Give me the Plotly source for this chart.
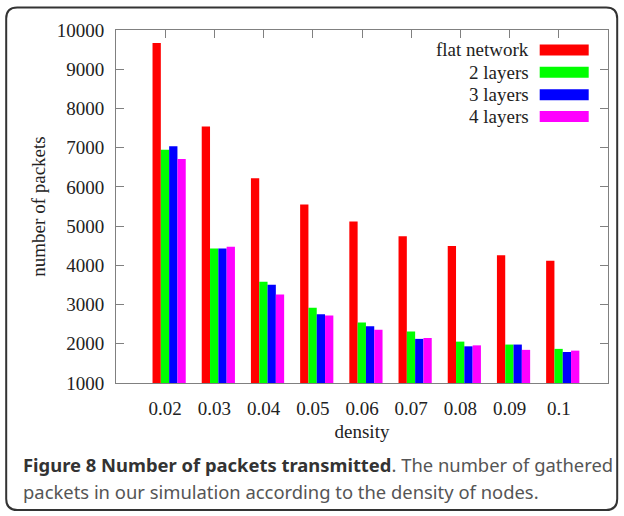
import numpy as np
import plotly.graph_objects as go

# Packets gathered per node density, for each network organisation
densities = ["0.02", "0.03", "0.04", "0.05", "0.06", "0.07", "0.08", "0.09", "0.1"]
series_names = ["flat network", "2 layers", "3 layers", "4 layers"]
series_colors = ["#ff0000", "#00ff00", "#0000ff", "#ff00ff"]

flat_network = [9670, 7540, 6220, 5550, 5120, 4740, 4490, 4260, 4115]
two_layers = [6950, 4430, 3580, 2920, 2540, 2310, 2055, 1980, 1870]
three_layers = [7035, 4430, 3505, 2755, 2445, 2125, 1935, 1980, 1790]
four_layers = [6710, 4475, 3255, 2720, 2360, 2150, 1960, 1845, 1825]
series_values = [flat_network, two_layers, three_layers, four_layers]

y_ticks = list(range(1000, 10001, 1000))
y_tick_text = [str(v) for v in y_ticks]

W, H = 624, 516
PL, PR, PT, PB = 116.3, 608.3, 30.0, 383.3  # plot area in pixels

serif = "Liberation Serif, Times New Roman, serif"
axis_col = "#808080"
text_col = "#222"

idx = np.arange(len(densities))
cluster_shift = 0.08

fig = go.Figure()
for name, col, vals in zip(series_names, series_colors, series_values):
    fig.add_trace(go.Bar(
        x=idx + cluster_shift, y=vals, name=name,
        marker=dict(color=col, line=dict(width=0)),
        showlegend=False,
    ))

fig.update_layout(
    width=W, height=H,
    margin=dict(l=PL, r=W - PR, t=PT, b=H - PB, pad=0),
    paper_bgcolor="white", plot_bgcolor="white",
    barmode="group", bargap=0.325, bargroupgap=0,
    font=dict(family=serif, size=19, color=text_col),
)
fig.update_xaxes(
    range=[-1, len(densities)], tickmode="array", tickvals=idx, ticktext=densities,
    ticks="inside", ticklen=8, tickcolor=axis_col, tickwidth=1,
    showline=True, linecolor=axis_col, linewidth=1, mirror="ticks",
    showgrid=False, zeroline=False, layer="below traces", ticklabelstandoff=8,
    tickfont=dict(family=serif, size=19, color=text_col),
    title=dict(text="density", font=dict(family=serif, size=19, color=text_col), standoff=6),
)
fig.update_yaxes(
    range=[1000, 10000], tickmode="array", tickvals=y_ticks, ticktext=y_tick_text,
    ticks="inside", ticklen=8, tickcolor=axis_col, tickwidth=1,
    showline=True, linecolor=axis_col, linewidth=1, mirror="ticks",
    showgrid=False, zeroline=False, ticklabelstandoff=7,
    tickfont=dict(family=serif, size=19, color=text_col),
    title=dict(text="number of packets", font=dict(family=serif, size=19, color=text_col), standoff=6),
)


def px_x(p):
    return (p - PL) / (PR - PL)


def px_y(p):
    return (PB - p) / (PB - PT)


# Key: labels right-aligned, wide swatches to their right
row_y = [50, 72.3, 94.7, 116.5]
for name, col, yc in zip(series_names, series_colors, row_y):
    fig.add_shape(type="rect", xref="paper", yref="paper",
                  x0=px_x(540), x1=px_x(589), y0=px_y(yc + 5.5), y1=px_y(yc - 5.5),
                  fillcolor=col, line=dict(width=0))
    fig.add_annotation(xref="paper", yref="paper", x=px_x(531), y=px_y(yc),
                       xanchor="right", yanchor="middle", showarrow=False,
                       text=name, font=dict(family=serif, size=19, color=text_col))

# Caption below the chart
cap_font = "Noto Sans, Open Sans, sans-serif"
fig.add_annotation(xref="paper", yref="paper", x=px_x(21), y=px_y(465),
                   xanchor="left", yanchor="middle", showarrow=False, align="left",
                   text="<b>Figure 8 Number of packets transmitted</b><span style='color:#555'>. The number of gathered</span>",
                   font=dict(family=cap_font, size=18.4, color="#333"))
fig.add_annotation(xref="paper", yref="paper", x=px_x(21), y=px_y(492),
                   xanchor="left", yanchor="middle", showarrow=False, align="left",
                   text="packets in our simulation according to the density of nodes.",
                   font=dict(family=cap_font, size=18.4, color="#555"))

# Rounded frame around the figure, given in pixels and converted to paper units
x0, y0, x1, y1, r = 6.5, 7.5, 617.5, 510.5, 11
path = (f"M {x0 + r},{y0} L {x1 - r},{y0} Q {x1},{y0} {x1},{y0 + r} "
        f"L {x1},{y1 - r} Q {x1},{y1} {x1 - r},{y1} L {x0 + r},{y1} "
        f"Q {x0},{y1} {x0},{y1 - r} L {x0},{y0 + r} Q {x0},{y0} {x0 + r},{y0} Z")
pts = []
for seg in path.split(" "):
    if "," in seg:
        a, b = seg.split(",")
        pts.append(f"{px_x(float(a)):.5f},{px_y(float(b)):.5f}")
    else:
        pts.append(seg)
fig.add_shape(type="path", xref="paper", yref="paper", path=" ".join(pts),
              line=dict(color="#333", width=2), fillcolor="rgba(0,0,0,0)", layer="above")

fig.write_html("out.html")
